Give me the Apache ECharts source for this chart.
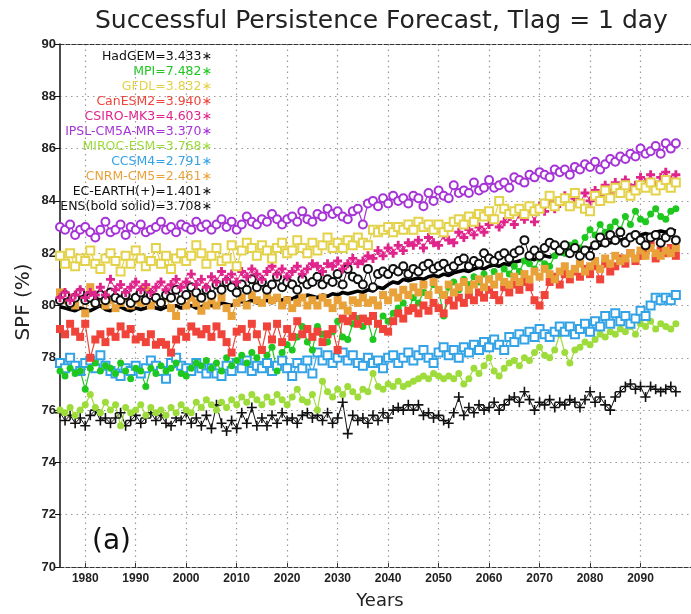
<!DOCTYPE html>
<html><head><meta charset="utf-8">
<script src="https://cdn.jsdelivr.net/npm/echarts@6/dist/echarts.min.js"></script>
<style>html,body{margin:0;padding:0;background:#fff}#c{width:691px;height:614px}</style>
</head><body><div id="c"></div>
<script>
const startYear = 1975;
const xTicks = [1980,1990,2000,2010,2020,2030,2040,2050,2060,2070,2080,2090];

const ipsl = [
83.0,82.9,83.1,82.7,82.9,83.0,82.8,82.6,82.9,83.2,
82.8,82.9,83.1,82.7,83.0,82.9,83.1,82.8,82.9,83.0,
83.2,82.9,83.0,82.8,83.1,83.0,82.9,83.2,83.0,83.1,
82.9,83.1,83.3,83.0,83.2,82.9,83.1,83.4,83.2,83.1,
83.3,83.2,83.5,83.3,83.1,83.3,83.4,83.2,83.6,83.3,
83.2,83.5,83.4,83.7,83.5,83.6,83.4,83.3,83.6,83.7,
83.1,83.9,84.0,83.8,84.1,83.9,84.2,84.0,84.1,83.9,
84.2,84.1,83.8,84.3,84.0,84.4,84.2,84.1,84.6,84.3,
84.4,84.3,84.7,84.4,84.5,84.8,84.5,84.6,84.7,84.5,
84.9,84.8,84.7,85.0,84.9,85.1,85.0,84.9,85.2,85.1,
85.2,85.0,85.3,85.2,85.4,85.3,85.5,85.2,85.4,85.6,
85.5,85.7,85.6,85.8,85.7,86.0,85.8,85.9,86.1,85.8,
86.2,86.0,86.2];
const gfdl = [
81.9,81.6,82.0,81.5,81.8,81.7,82.1,81.6,81.4,81.8,
82.0,81.7,81.3,81.9,81.6,82.1,81.8,81.5,81.7,82.2,
81.6,81.9,81.4,81.8,82.0,81.7,81.9,82.3,82.0,81.6,
81.9,82.2,81.7,81.8,82.3,81.5,82.1,82.4,82.2,81.9,
82.3,82.1,81.8,82.2,82.4,82.0,82.1,82.5,82.2,82.0,
82.4,82.1,82.3,82.6,82.2,82.4,82.2,82.5,82.3,82.6,
82.4,82.3,82.9,82.8,82.9,83.0,82.8,83.0,82.9,83.1,
82.9,83.2,83.0,83.1,82.9,83.1,82.8,83.0,83.2,83.3,
83.1,83.4,83.2,83.5,83.4,83.6,83.3,84.0,83.7,83.5,
83.6,83.7,83.5,83.8,83.6,83.7,83.9,84.2,83.8,84.0,
84.1,83.8,84.3,83.9,83.7,83.6,84.2,84.0,84.4,84.1,
84.5,84.3,84.6,84.2,84.4,84.6,84.5,84.7,84.4,84.6,
84.8,84.5,84.7];
const csiro = [
80.3,80.5,80.2,80.4,80.6,80.3,80.5,80.4,80.7,80.4,
81.0,80.6,80.8,80.5,80.7,80.9,80.6,80.8,80.5,80.7,
80.9,80.6,80.8,81.0,80.7,80.9,81.2,80.8,81.0,80.7,
81.1,80.9,81.3,81.0,81.2,80.9,81.3,81.1,81.4,81.2,
81.0,81.3,81.5,81.2,81.4,81.1,81.3,81.5,81.2,81.4,
81.6,81.5,81.3,81.6,81.5,81.7,81.4,81.6,81.8,81.6,
81.7,81.9,81.8,82.1,81.9,82.2,82.0,82.3,82.1,82.4,
82.3,82.5,82.2,82.6,82.4,82.3,82.7,82.5,82.4,82.8,
82.6,82.9,82.7,83.0,82.8,83.1,83.3,83.0,83.2,83.4,
83.1,83.5,83.3,83.7,83.2,83.8,83.6,84.0,83.7,83.9,
84.2,83.8,84.1,83.9,84.3,84.0,84.4,84.2,84.6,84.3,
84.7,84.4,84.8,84.5,84.6,84.9,84.7,85.0,84.6,84.9,
85.1,84.8,85.0];
const hadgem = [
80.2,80.4,80.1,80.3,80.5,80.2,80.3,80.1,80.4,80.2,
80.5,80.3,80.2,80.4,80.1,80.3,80.5,80.2,80.4,80.3,
80.1,80.4,80.3,80.6,80.2,80.4,80.7,80.5,80.3,80.6,
80.4,80.8,80.6,80.9,80.7,80.5,80.8,80.6,81.0,80.7,
80.9,80.6,80.8,81.1,80.7,80.9,80.8,80.6,81.0,80.8,
80.9,81.1,80.8,81.0,80.9,81.2,80.8,81.4,81.1,81.0,
80.8,81.4,80.7,81.2,81.3,81.2,81.4,81.3,81.5,81.2,
81.4,81.3,81.5,81.6,81.4,81.5,81.6,81.4,81.5,81.7,
81.8,81.5,81.7,81.6,82.0,81.8,81.7,81.9,82.0,81.8,
82.0,82.1,82.5,81.9,82.1,81.9,82.2,82.4,82.3,82.1,
82.3,82.0,82.2,81.9,82.1,81.9,82.3,82.6,82.4,82.7,
82.5,82.8,82.4,82.6,82.7,82.5,82.3,82.6,82.7,82.4,
82.6,82.8,82.5];
const ens = [
79.95,79.9,79.85,79.8,79.9,79.85,79.8,79.9,80.0,79.85,
79.8,79.9,79.95,79.85,79.8,79.9,79.85,79.9,80.0,79.9,
79.85,79.95,79.9,80.0,79.9,79.95,80.0,79.9,79.95,80.05,
80.0,79.95,80.1,80.05,80.0,80.1,80.15,80.1,80.2,80.1,
80.15,80.2,80.1,80.25,80.2,80.3,80.25,80.35,80.3,80.4,
80.35,80.3,80.4,80.35,80.45,80.4,80.5,80.45,80.5,80.55,
80.5,80.6,80.55,80.7,80.65,80.8,80.9,80.85,81.0,80.95,
81.0,81.05,81.0,81.1,81.15,81.1,81.2,81.15,81.25,81.3,
81.35,81.3,81.4,81.45,81.4,81.5,81.55,81.5,81.6,81.55,
81.65,81.7,81.75,81.8,81.75,81.85,81.9,81.85,81.95,82.0,
81.95,82.05,82.1,82.05,82.15,82.2,82.25,82.3,82.35,82.4,
82.45,82.5,82.55,82.6,82.65,82.7,82.75,82.7,82.8,82.85,
82.8,82.9,82.85];
const mpi = [
77.5,77.3,77.6,77.4,77.5,76.8,77.6,77.8,77.5,77.7,
77.6,77.4,77.8,77.5,77.2,77.6,77.5,76.9,77.6,77.4,
77.7,77.5,77.6,77.8,77.4,77.3,77.6,77.8,77.7,77.9,
77.6,77.8,77.5,78.0,77.7,77.9,78.1,77.8,78.2,78.0,
78.3,78.1,78.4,77.5,78.2,78.5,78.3,78.8,79.2,78.6,
78.3,79.2,78.9,78.6,79.0,79.4,78.8,78.7,79.3,79.5,
79.2,79.4,78.7,79.3,79.6,79.4,79.7,79.9,80.1,79.8,
80.3,80.1,80.5,80.4,80.8,80.6,79.6,80.7,80.9,80.6,
81.0,80.8,81.1,80.9,81.2,81.0,81.3,81.1,81.4,81.2,
81.5,81.3,81.7,81.6,81.4,81.8,81.6,81.5,81.9,82.2,
82.0,82.3,82.4,82.2,82.6,82.9,82.7,83.1,82.8,83.0,
83.2,82.9,83.4,83.1,83.6,83.3,83.2,83.5,83.7,83.4,
83.3,83.6,83.7];
const cnrm = [
80.5,80.2,80.3,80.0,80.4,79.7,80.7,80.1,80.3,80.0,
80.2,79.9,80.1,80.3,80.0,80.2,80.1,80.7,80.0,80.2,
80.1,80.3,79.9,79.6,80.2,80.0,80.3,80.1,79.8,80.0,
80.2,80.0,80.3,79.9,79.6,80.1,80.3,80.0,80.4,80.2,
80.1,80.4,80.2,80.3,80.0,80.2,79.9,80.1,80.3,80.0,
80.2,80.0,80.3,80.1,79.9,80.2,80.0,79.8,80.2,80.1,
80.3,80.1,80.2,80.0,80.4,80.2,80.5,80.3,80.6,80.4,
80.7,80.5,80.8,80.4,80.9,80.6,80.4,80.8,80.5,80.7,
80.9,80.6,80.8,81.0,80.7,81.0,80.8,81.1,80.9,80.8,
81.1,80.9,81.2,81.0,81.3,81.1,81.4,81.2,81.0,81.3,
81.5,81.2,81.4,81.6,81.3,81.5,81.7,81.4,81.8,81.6,
81.9,81.7,81.8,82.0,81.8,82.1,81.9,82.2,82.0,81.9,
82.1,82.0,82.2];
const canesm2 = [
79.1,78.9,79.3,79.0,78.8,79.3,78.0,78.7,78.9,78.6,
79.0,78.8,79.2,78.9,79.1,78.7,78.8,78.6,78.9,78.5,
78.6,78.5,78.2,78.7,79.0,78.8,79.2,79.0,78.9,79.1,
78.8,79.2,78.9,78.6,78.2,79.0,79.1,78.8,79.3,78.9,
78.3,79.2,78.7,79.3,78.6,79.1,78.8,79.4,78.9,79.1,
78.8,79.0,78.6,78.9,79.1,78.3,79.5,79.4,79.6,79.3,
79.5,79.4,79.6,79.3,79.1,79.0,79.4,79.7,79.5,79.8,
79.9,79.7,80.0,79.8,80.1,79.9,79.7,80.2,80.0,80.3,
80.1,80.4,80.2,80.5,80.3,80.6,80.4,80.2,80.7,80.5,
80.8,80.6,80.9,80.7,80.2,80.0,80.4,80.9,81.1,80.8,
81.2,81.0,81.3,81.1,81.4,81.2,81.5,81.0,81.6,81.3,
81.5,81.8,81.6,82.0,81.7,81.9,82.1,82.4,81.8,82.1,
82.0,82.2,81.9];
const ccsm4 = [
77.8,77.6,78.0,77.7,77.5,77.8,77.9,77.6,78.1,77.7,
77.5,77.4,77.3,77.6,77.5,77.7,77.4,77.6,77.9,77.7,
77.5,77.2,77.8,78.0,77.7,77.6,77.5,77.8,77.6,77.4,
77.6,77.4,77.3,77.7,77.5,77.8,77.6,77.9,77.5,77.7,
77.6,77.8,77.5,77.7,77.9,77.6,77.3,77.8,77.6,77.9,
77.4,78.2,77.9,78.1,77.8,78.0,78.2,77.9,78.1,77.8,
77.7,78.0,77.8,77.9,77.6,78.0,78.1,77.8,78.0,78.2,
77.9,78.1,78.3,78.0,77.8,78.2,78.4,78.1,78.3,78.0,
78.4,78.2,78.5,78.3,78.6,78.4,78.7,78.5,78.3,78.8,
78.6,78.9,78.7,79.0,78.8,79.1,78.9,78.8,79.0,79.2,
79.0,79.2,78.9,79.1,79.3,79.0,79.4,79.2,79.6,79.3,
79.7,79.4,79.6,79.3,79.5,79.8,79.6,80.0,80.3,80.2,
80.3,80.2,80.4];
const miroc = [
76.0,75.9,76.1,75.8,76.0,76.2,76.6,76.1,75.9,76.3,
76.0,76.2,75.4,76.1,75.9,76.0,76.2,75.8,76.1,75.9,
76.0,75.8,76.1,75.9,76.2,76.0,75.9,76.3,76.1,76.4,
76.2,76.0,76.3,76.1,76.4,76.2,76.5,76.3,76.6,76.4,
76.2,76.5,76.3,76.6,76.4,76.2,76.5,76.8,76.4,76.3,
76.6,76.0,77.1,76.7,76.5,76.8,76.6,76.9,76.7,76.5,
76.8,76.7,77.4,76.9,76.8,77.0,76.9,77.1,76.9,77.0,
77.1,77.2,77.3,77.2,77.4,77.3,77.2,77.3,77.2,77.4,
77.0,77.2,77.6,77.4,77.7,78.0,77.5,77.3,77.6,77.8,
77.9,77.7,78.0,77.9,78.2,78.4,78.1,78.0,78.3,78.9,
78.2,77.8,78.3,78.4,78.6,78.5,78.7,78.9,78.8,79.0,
78.9,79.1,79.0,79.2,78.9,79.3,79.2,79.4,79.1,79.3,
79.2,79.1,79.3];
const ecearth = [
75.9,75.6,75.8,75.5,75.7,75.4,75.8,76.0,75.6,75.7,
75.5,75.7,75.9,75.4,75.6,75.8,75.5,75.7,75.9,75.6,
75.8,75.5,75.4,75.7,75.6,75.9,75.5,75.7,75.4,75.8,
75.3,76.2,75.5,75.2,75.6,75.3,75.9,75.5,76.1,75.4,
75.7,75.4,75.8,75.5,75.9,75.6,75.7,75.5,75.8,75.9,
75.7,75.8,75.6,75.9,75.5,75.7,76.3,75.1,75.8,75.6,
75.7,75.5,75.8,75.6,75.9,75.7,76.0,76.1,76.0,76.2,
76.0,76.2,75.8,75.9,75.7,75.8,75.6,75.5,75.9,76.5,
75.8,76.1,75.9,76.2,76.0,76.1,76.3,76.0,76.2,76.4,
76.5,76.3,76.7,76.4,76.0,76.3,76.2,76.4,76.1,76.3,
76.2,76.4,76.3,76.1,76.4,76.7,76.3,76.5,76.2,76.0,
76.5,76.7,76.9,77.0,76.8,76.9,76.5,76.9,76.8,76.7,
76.8,76.9,76.7];

const legendNames = ['HadGEM=3.433\u2217','MPI=7.482\u2217','GFDL=3.832\u2217','CanESM2=3.940\u2217','CSIRO-MK3=4.603\u2217','IPSL-CM5A-MR=3.370\u2217','MIROC-ESM=3.768\u2217','CCSM4=2.791\u2217','CNRM-CM5=2.461\u2217','EC-EARTH(+)=1.401\u2217','ENS(bold solid)=3.708\u2217'];
const legendColors = ['#111111','#1ec81e','#e3d24a','#f0433a','#e0248c','#a633d6','#9ddc3a','#34a3e6','#e9a23a','#111111','#111111'];

const years = hadgem.map((_, i) => startYear + i);
const toXY = arr => arr.map((v, i) => [years[i], v]);

const PLUS_BOLD = 'path://M3.4,0H6.6V3.4H10V6.6H6.6V10H3.4V6.6H0V3.4H3.4Z';
const PLUS_THIN = 'path://M4.2,0H5.8V4.2H10V5.8H5.8V10H4.2V5.8H0V4.2H4.2Z';

function mk(name, arr, color, symbol, size, lw, bw) {
  return {
    name, type: 'line', data: toXY(arr), symbol, symbolSize: size,
    lineStyle: { color, width: lw },
    itemStyle: { color, borderColor: color, borderWidth: bw || 0 },
    showSymbol: symbol !== 'none', animation: false, silent: true
  };
}

const series = [
  mk('EC-EARTH', ecearth, '#111111', PLUS_THIN, 10, 1),
  mk('MIROC-ESM', miroc, '#9ddc3a', 'circle', 7, 1.2),
  mk('CCSM4', ccsm4, '#34a3e6', 'emptyRect', 8, 1.2, 1.5),
  mk('MPI', mpi, '#1ec81e', 'circle', 7, 1.2),
  mk('CanESM2', canesm2, '#f0433a', 'rect', 8, 1.2),
  mk('CNRM-CM5', cnrm, '#e9a23a', 'rect', 8, 1.2),
  mk('HadGEM', hadgem, '#111111', 'emptyCircle', 8, 1, 1.3),
  mk('CSIRO-MK3', csiro, '#e0248c', PLUS_BOLD, 9, 1),
  mk('GFDL', gfdl, '#e3d24a', 'emptyRect', 8, 1.2, 1.5),
  mk('IPSL-CM5A-MR', ipsl, '#a633d6', 'emptyCircle', 8, 1.2, 1.5),
  mk('ENS', ens, '#000000', 'none', 0, 3.6)
];

const dotted = { color: '#9a9a9a', type: [1.5, 4], width: 1.2 };
const dashed = { color: '#333', type: [4, 2], width: 1.2 };

const graphics = legendNames.map((t, i) => ({
  type: 'text', x: 212, y: 57 + i * 15, silent: true,
  style: { text: t, fill: legendColors[i], font: '12.5px "DejaVu Sans"', align: 'right', verticalAlign: 'middle' }
}));
graphics.push({ type: 'text', x: 24, y: 302, rotation: Math.PI / 2, silent: true,
  style: { text: 'SPF (%)', fill: '#222', font: '20px "DejaVu Sans"', align: 'center', verticalAlign: 'middle' } });
graphics.push({ type: 'text', x: 380, y: 601, silent: true,
  style: { text: 'Years', fill: '#222', font: '18px "DejaVu Sans"', align: 'center', verticalAlign: 'middle' } });
graphics.push({ type: 'text', x: 92, y: 542, silent: true,
  style: { text: '(a)', fill: '#111', font: '28px "DejaVu Sans"', align: 'left', verticalAlign: 'middle' } });

const chart = echarts.init(document.getElementById('c'));
chart.setOption({
  animation: false,
  backgroundColor: '#fff',
  title: { text: 'Successful Persistence Forecast, Tlag = 1 day', left: 90, top: 4,
    textStyle: { fontFamily: 'DejaVu Sans', fontSize: 25, fontWeight: 'normal', color: '#222' } },
  grid: { left: 60, right: -18, top: 44, bottom: 47 },
  xAxis: [
    { type: 'value', min: 1975, max: 2100, position: 'bottom',
      axisLine: { show: true, onZero: false, lineStyle: dashed },
      axisTick: { show: true, inside: true, length: 4, customValues: xTicks, lineStyle: { color: '#333' } },
      axisLabel: { customValues: xTicks, margin: 6, formatter: v => String(v), fontFamily: 'Liberation Sans', fontWeight: 'bold', fontSize: 12, color: '#222' },
      splitLine: { show: true, lineStyle: dotted } },
    { type: 'value', min: 1975, max: 2100, position: 'top',
      axisLine: { show: true, onZero: false, lineStyle: dashed },
      axisTick: { show: false }, axisLabel: { show: false }, splitLine: { show: false } }
  ],
  yAxis: { type: 'value', min: 70, max: 90, interval: 2,
    axisLine: { show: true, lineStyle: { color: '#111', width: 1.5 } },
    axisTick: { show: true, length: 5, lineStyle: { color: '#111' } },
    axisLabel: { margin: 4, fontFamily: 'Liberation Sans', fontWeight: 'bold', fontSize: 13, color: '#222' },
    splitLine: { show: true, lineStyle: dotted } },
  series,
  graphic: graphics
});
</script></body></html>
